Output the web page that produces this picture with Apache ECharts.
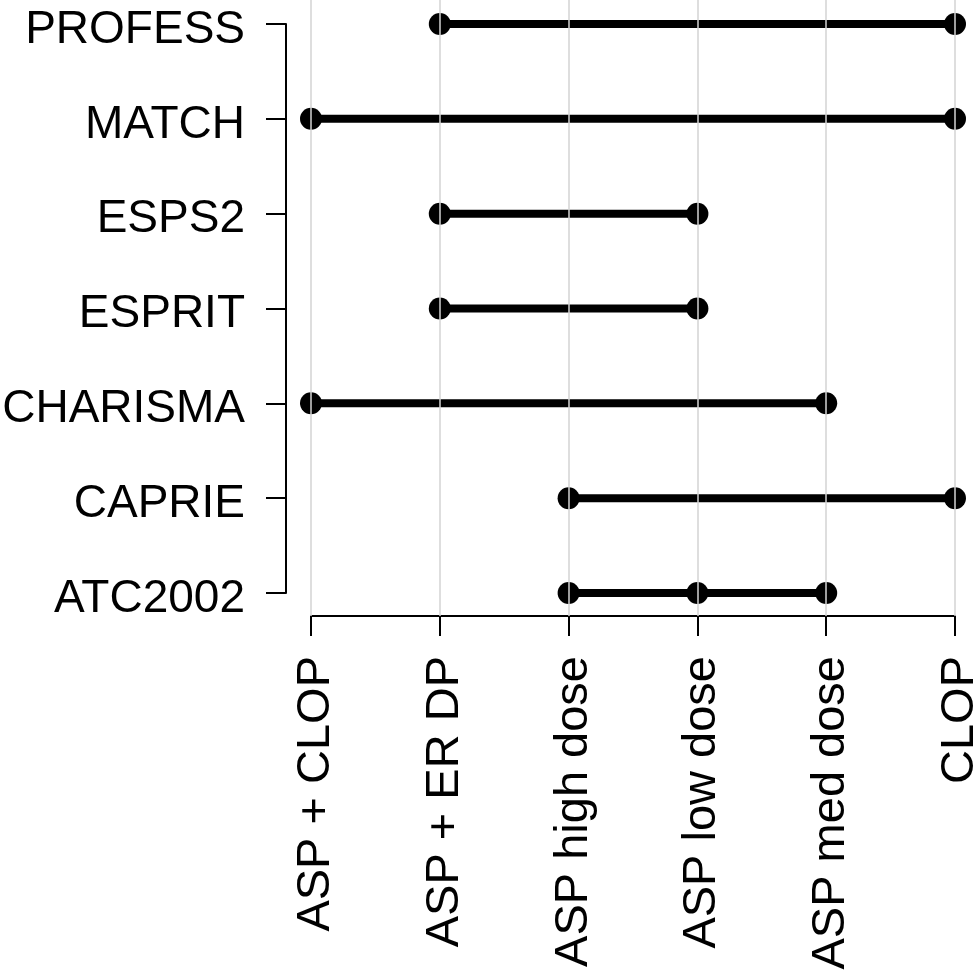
<!DOCTYPE html>
<html>
<head>
<meta charset="utf-8">
<script src="https://cdn.jsdelivr.net/npm/echarts@6/dist/echarts.min.js"></script>
<style>
  html, body { margin: 0; padding: 0; background: #fff; }
  #main { width: 979px; height: 974px; }
</style>
</head>
<body>
<div id="main"></div>
<script>
// categories
var trials = ["ATC2002", "CAPRIE", "CHARISMA", "ESPRIT", "ESPS2", "MATCH", "PROFESS"];
var treatments = ["ASP + CLOP", "ASP + ER DP", "ASP high dose", "ASP low dose", "ASP med dose", "CLOP"];

// arms compared in each trial
var atc2002 = ["ASP high dose", "ASP low dose", "ASP med dose"];
var caprie = ["ASP high dose", "CLOP"];
var charisma = ["ASP + CLOP", "ASP med dose"];
var esprit = ["ASP + ER DP", "ASP low dose"];
var esps2 = ["ASP + ER DP", "ASP low dose"];
var match = ["ASP + CLOP", "CLOP"];
var profess = ["ASP + ER DP", "CLOP"];

var arms = [atc2002, caprie, charisma, esprit, esps2, match, profess];

var font = "Liberation Sans, Arial, sans-serif";

var series = trials.map(function (t, i) {
  return {
    name: t,
    type: "line",
    xAxisIndex: 0,
    yAxisIndex: 0,
    clip: false,
    symbol: "circle",
    symbolSize: 22,
    color: "#000",
    lineStyle: { color: "#000", width: 8 },
    itemStyle: { color: "#000" },
    data: arms[i].map(function (a) { return [a, t]; })
  };
});

var chart = echarts.init(document.getElementById("main"));
chart.setOption({
  backgroundColor: "#fff",
  animation: false,
  grid: [
    { left: 311, right: 24, top: 24, bottom: 381, outerBoundsMode: "none", containLabel: false },
    // only for the vertical grid lines, which run to the top edge
    { left: 311, right: 24, top: 0, bottom: 358, outerBoundsMode: "none", containLabel: false }
  ],
  xAxis: [
    {
      type: "category",
      gridIndex: 0,
      data: treatments,
      boundaryGap: false,
      offset: 23,
      axisLine: { lineStyle: { color: "#000", width: 2 } },
      axisTick: { show: true, interval: 0, length: 20, lineStyle: { color: "#000", width: 2 } },
      axisLabel: {
        interval: 0,
        rotate: 90,
        margin: 40,
        verticalAlign: "top",
        lineHeight: 10,
        color: "#000",
        fontSize: 47,
        fontFamily: font
      },
      splitLine: { show: false }
    },
    {
      type: "category",
      gridIndex: 1,
      data: treatments,
      boundaryGap: false,
      z: 5,
      axisLine: { show: false },
      axisTick: { show: false },
      axisLabel: { show: false },
      splitLine: { show: true, interval: 0, lineStyle: { color: "#d3d3d3", width: 1.5 } }
    }
  ],
  yAxis: [
    {
      type: "category",
      gridIndex: 0,
      data: trials,
      boundaryGap: false,
      offset: 25,
      axisLine: { lineStyle: { color: "#000", width: 2 } },
      axisTick: { show: true, interval: 0, length: 20, lineStyle: { color: "#000", width: 2 } },
      axisLabel: {
        interval: 0,
        margin: 41,
        verticalAlign: "top",
        lineHeight: 12,
        color: "#000",
        fontSize: 46,
        fontFamily: font
      },
      splitLine: { show: false }
    },
    {
      type: "value",
      gridIndex: 1,
      show: false
    }
  ],
  series: series
});
</script>
</body>
</html>
